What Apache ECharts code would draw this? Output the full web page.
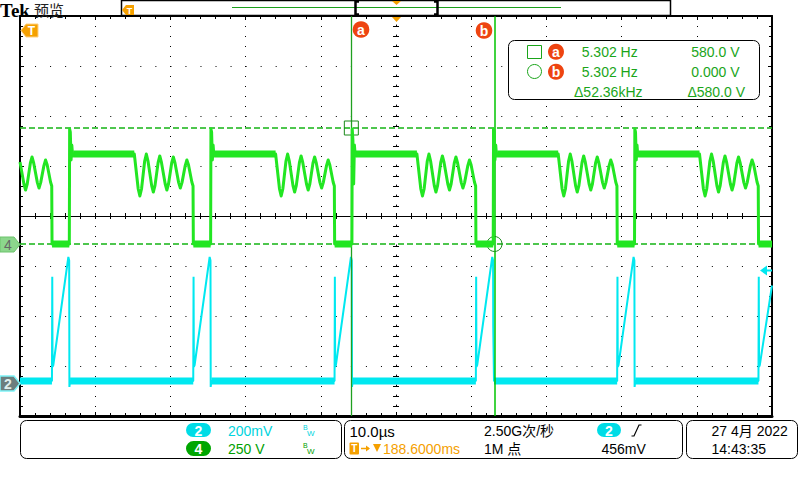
<!DOCTYPE html>
<html><head><meta charset="utf-8">
<script src="https://cdn.jsdelivr.net/npm/echarts@6/dist/echarts.min.js"></script>
<style>html,body{margin:0;padding:0;background:#fff;}#c{width:800px;height:480px;}</style>
</head><body><div id="c"></div>
<script>
// ---------------- data (time in µs, 10 µs/div; CH4 in V, CH2 in mV) ----------------
const timeRange = [-50, 50];
const divRange = [-4, 4];
const ch4VoltRange = [-860, 1140];   // 250 V/div
const ch2MilliVoltRange = [-132, 1468]; // 200 mV/div

// CH4 (green) trace points [t µs, V]
const ch4Wave = [
  [-50,410],[-49.48,300],[-49.26,270],[-49.04,300],[-48.62,405],[-48.40,435],[-48.18,405],[-47.69,307],[-47.47,280],[-47.25,307],[-46.82,392],[-46.60,420],[-46.38,395],[-45.94,310],[-45.78,290],[-45.74,0],
  [-43.44,0],[-43.40,575],[-43.31,560],[-43.21,420],[-43.11,495],[-43.00,440],[-42.91,450],
  [-34.80,450],[-34.28,275],[-34.06,240],[-33.84,275],[-33.42,415],[-33.20,450],[-32.98,415],[-32.49,292],[-32.27,260],[-32.05,292],[-31.63,408],[-31.41,440],[-31.19,408],[-30.69,300],[-30.47,270],[-30.25,300],[-29.83,405],[-29.61,435],[-29.39,405],[-28.90,307],[-28.68,280],[-28.46,307],[-28.03,392],[-27.81,420],[-27.59,395],[-27.15,310],[-26.99,290],[-26.95,0],
  [-24.65,0],[-24.61,575],[-24.52,560],[-24.42,420],[-24.32,495],[-24.21,440],[-24.12,450],
  [-16.01,450],[-15.49,275],[-15.27,240],[-15.05,275],[-14.63,415],[-14.41,450],[-14.19,415],[-13.70,292],[-13.48,260],[-13.26,292],[-12.84,408],[-12.62,440],[-12.40,408],[-11.90,300],[-11.68,270],[-11.46,300],[-11.04,405],[-10.82,435],[-10.60,405],[-10.11,307],[-9.89,280],[-9.67,307],[-9.24,392],[-9.02,420],[-8.80,395],[-8.36,310],[-8.20,290],[-8.16,0],
  [-5.86,0],[-5.82,575],[-5.73,520],[-5.63,300],[-5.53,495],[-5.42,440],[-5.33,450],
  [2.78,450],[3.30,275],[3.52,240],[3.74,275],[4.16,415],[4.38,450],[4.60,415],[5.09,292],[5.31,260],[5.53,292],[5.95,408],[6.17,440],[6.39,408],[6.89,300],[7.11,270],[7.33,300],[7.75,405],[7.97,435],[8.19,405],[8.68,307],[8.90,280],[9.12,307],[9.55,392],[9.77,420],[9.99,395],[10.43,310],[10.59,290],[10.63,0],
  [12.93,0],[12.97,575],[13.06,560],[13.16,420],[13.26,495],[13.37,440],[13.46,450],
  [21.57,450],[22.09,275],[22.31,240],[22.53,275],[22.95,415],[23.17,450],[23.39,415],[23.88,292],[24.10,260],[24.32,292],[24.74,408],[24.96,440],[25.18,408],[25.68,300],[25.90,270],[26.12,300],[26.54,405],[26.76,435],[26.98,405],[27.47,307],[27.69,280],[27.91,307],[28.34,392],[28.56,420],[28.78,395],[29.22,310],[29.38,290],[29.42,0],
  [31.72,0],[31.76,575],[31.85,560],[31.95,420],[32.05,495],[32.16,440],[32.25,450],
  [40.36,450],[40.88,275],[41.10,240],[41.32,275],[41.74,415],[41.96,450],[42.18,415],[42.67,292],[42.89,260],[43.11,292],[43.53,408],[43.75,440],[43.97,408],[44.47,300],[44.69,270],[44.91,300],[45.33,405],[45.55,435],[45.77,405],[46.26,307],[46.48,280],[46.70,307],[47.13,392],[47.35,420],[47.57,395],[48.01,310],[48.17,290],[48.21,0],
  [50,0]
];
// CH4 noisy flat parts [t0, t1, V]
const ch4Flats = [
  [-45.74,-43.44,0],[-42.91,-34.80,450],[-26.95,-24.65,0],[-24.12,-16.01,450],[-8.16,-5.86,0],[-5.33,2.78,450],
  [10.63,12.93,0],[13.46,21.57,450],[29.42,31.72,0],[32.25,40.36,450],[48.21,50,0]
];
// CH2 (cyan) trace points [t µs, mV]
const ch2Wave = [
  [-50,8],[-45.75,8],[-45.71,425],[-45.67,65],[-45.57,72],[-43.57,504],[-43.46,490],[-43.43,-16],[-43.34,8],
  [-26.96,8],[-26.92,425],[-26.88,65],[-26.78,72],[-24.78,504],[-24.67,490],[-24.64,-16],[-24.55,8],
  [-8.17,8],[-8.13,425],[-8.09,65],[-7.99,72],[-5.99,504],[-5.88,490],[-5.85,-16],[-5.76,8],
  [10.62,8],[10.66,425],[10.70,65],[10.80,72],[12.80,504],[12.91,490],[12.93,225],[13.00,225],[13.03,8],
  [29.41,8],[29.45,425],[29.49,65],[29.59,72],[31.59,504],[31.70,490],[31.73,-16],[31.82,8],
  [48.20,8],[48.24,425],[48.28,65],[48.38,72],[50,390]
];
// CH2 noisy baseline parts [t0, t1, mV]
const ch2Flats = [
  [-50,-45.75,8],[-43.34,-26.96,8],[-24.55,-8.17,8],[-5.76,10.62,8],[13.03,29.41,8],[31.82,48.20,8]
];
// cursors
const cursorTimes = [-5.94, 13.10];   // µs
const cursorVolts = [580, 0];         // V
// readouts
const cursorRows = [
  ['5.302 Hz', '580.0 V'],
  ['5.302 Hz', '0.000 V'],
  ['\u039452.36kHz', '\u0394580.0 V']
];
const chanLabels = [['2', '200mV'], ['4', '250 V']];
const timeLabels = ['10.0\u00b5s', '188.6000ms', '2.50G\u6b21/\u79d2', '1M \u70b9', '456mV'];
const dateLabels = ['27 4\u6708 2022', '14:43:35'];

// ---------------- chart ----------------
const GREEN = '#22e622', CYAN = '#00e8f0', ORANGE = '#f5a000', RED = '#ee4411';
const TXTG = '#1aa51a', TXTC = '#00d4de';
function flats(list){ const o=[]; list.forEach(([a,b,v])=>{o.push([a,v],[b,v],[b,'-']);}); return o; }

const chart = echarts.init(document.getElementById('c'), null, {renderer:'svg', width:800, height:480});
const F = '"Liberation Sans", "Noto Sans CJK SC", sans-serif';
function txt(x,y,t,fill,size,align,weight,fam){
  return {type:'text', silent:true, z:120, style:{x:x,y:y,text:t,fill:fill,font:(weight||'normal')+' '+size+'px '+(fam||F),
    textAlign:align||'left', align:align||'left', textVerticalAlign:'middle', verticalAlign:'middle'}};
}
function poly(pts,fill,stroke,lw){ return {type:'polygon', silent:true, z:110, shape:{points:pts}, style:{fill:fill, stroke:stroke||null, lineWidth:lw||0}}; }
function pline(pts,stroke,lw){ return {type:'polyline', silent:true, z:110, shape:{points:pts}, style:{fill:null, stroke:stroke, lineWidth:lw}}; }
function rrect(x,y,w,h,r,fill,stroke,lw){ return {type:'rect', silent:true, z:105, shape:{x:x,y:y,width:w,height:h,r:r}, style:{fill:fill, stroke:stroke||null, lineWidth:lw||0}}; }
function circ(cx,cy,r,fill,stroke,lw){ return {type:'circle', silent:true, z:110, shape:{cx:cx,cy:cy,r:r}, style:{fill:fill, stroke:stroke||null, lineWidth:lw||0}}; }

const frameTick = {show:true, inside:true, length:4, lineStyle:{color:'#000', width:1}};
const minor = {show:true, splitNumber:5, length:3, lineStyle:{color:'#000', width:1}};

const graphics = [
  txt(0,10,'Tek','#000',19,'left','bold','"Liberation Serif", serif'),
  txt(34,9.5,'\u9884\u89c8','#222',15,'left','normal','"Noto Sans CJK SC"'),
  rrect(121.5,0.5,549,15,0,'#fff','#000',1.5),
  pline([[232,7.5],[561,7.5]],'#1a9f1a',1),
  pline([[359,1.5],[355.5,1.5],[355.5,14.5],[359,14.5]],'#000',2.5),
  pline([[434,1.5],[437.5,1.5],[437.5,14.5],[434,14.5]],'#000',2.5),
  poly([[392,1],[401,1],[396.5,5]],ORANGE),
  poly([[122,10],[126,5],[134,5],[134,15],[126,15]],ORANGE),
  txt(129.5,10.5,'T','#fff',9,'center','bold'),
  poly([[392,17],[401,17],[396.5,22]],ORANGE),
  poly([[21,30.5],[26,24],[38,24],[38,37],[26,37]],ORANGE,'#ffd080',1),
  txt(31.5,31,'T','#fff',12,'center','bold'),
  poly([[0,237],[14,237],[20,244.5],[14,252],[0,252]],'#8cd68c','#6cc46c',1),
  txt(8,245,'4','#666',14,'center'),
  poly([[0,376],[14,376],[20,383.5],[14,391],[0,391]],'#6c7e7e','#7ff4f8',1.5),
  txt(8,384,'2','#e0eeee',14,'center','bold'),
  poly([[760,270.5],[767,265.5],[767,275.5]],CYAN),
  pline([[766,270.5],[772,270.5]],CYAN,2),
  circ(361,29.5,8.3,RED), txt(361,29.5,'a','#fff',14,'center','bold'),
  circ(484,30.5,8.3,RED), txt(484,30.5,'b','#fff',14,'center','bold'),
  rrect(508.5,40.5,251,59,6,'#fff','#000',1),
  rrect(527.5,45.5,14,13,0,null,TXTG,1),
  circ(556,51.7,8,RED), txt(556,51.7,'a','#fff',14,'center','bold'),
  circ(534.5,71.5,7,null,TXTG,1),
  circ(556,71.7,8,RED), txt(556,71.7,'b','#fff',14,'center','bold'),
  txt(581.7,52,cursorRows[0][0],TXTG,14), txt(739.5,52,cursorRows[0][1],TXTG,14,'right'),
  txt(581.7,72,cursorRows[1][0],TXTG,14), txt(739.5,72,cursorRows[1][1],TXTG,14,'right'),
  txt(574,91.5,cursorRows[2][0],TXTG,14), txt(745,91.5,cursorRows[2][1],TXTG,14,'right'),
  // bottom boxes
  rrect(20.5,420.5,321,38,6,'#fff','#000',1),
  rrect(344.5,420.5,338,38,6,'#fff','#000',1),
  rrect(686.5,420.5,111,38,6,'#fff','#000',1),
  rrect(186,423,25,14,7,'#00dce6'), txt(198.5,430.5,chanLabels[0][0],'#fff',14,'center','bold'),
  txt(228,431,chanLabels[0][1],TXTC,14),
  txt(303,427.5,'B',TXTC,7), txt(307,433.5,'W',TXTC,8),
  rrect(186,441,25,15,7.5,'#00a600'), txt(198.5,448.5,chanLabels[1][0],'#fff',14,'center','bold'),
  txt(228,448.5,chanLabels[1][1],'#00a000',14),
  txt(303,445,'B','#00a000',7), txt(307,451,'W','#00a000',8),
  txt(349.5,431,timeLabels[0],'#000',15),
  rrect(349.5,442.5,9.5,12,1,ORANGE), txt(354.2,448.7,'T','#fff',10,'center','bold'),
  pline([[361,448.5],[369,448.5]],ORANGE,1.5), poly([[366,445.5],[370,448.5],[366,451.5]],ORANGE),
  poly([[373,444],[381,444],[377,452]],ORANGE),
  txt(383,448.5,timeLabels[1],ORANGE,14),
  txt(484,431,timeLabels[2],'#000',14),
  txt(484,448.5,timeLabels[3],'#000',14),
  rrect(597,423,24,14,7,'#00dce6'), txt(609,430.5,'2','#fff',14,'center','bold'),
  pline([[631.5,436],[634,436],[639,425],[641.5,425]],'#000',1.2),
  txt(601.5,448.5,timeLabels[4],'#000',14),
  txt(711.5,431,dateLabels[0],'#000',14),
  txt(711.5,448.5,dateLabels[1],'#000',14)
];

const option = {
  animation:false,
  backgroundColor:'#fff',
  textStyle:{fontFamily:F},
  grid:{left:20, top:16, width:752, height:400, containLabel:false, show:false},
  xAxis:[
    {type:'value', min:timeRange[0], max:timeRange[1], interval:10, position:'bottom',
     axisLine:{show:true, onZero:false, lineStyle:{color:'#000', width:3}}, axisTick:frameTick, minorTick:minor,
     axisLabel:{show:false}, splitLine:{show:true, lineStyle:{color:'#000', width:1, type:[1,9]}}},
    {type:'value', min:timeRange[0], max:timeRange[1], interval:10, position:'top',
     axisLine:{show:true, onZero:false, lineStyle:{color:'#000', width:2}}, axisTick:frameTick, minorTick:minor,
     axisLabel:{show:false}, splitLine:{show:false}},
    {type:'value', min:timeRange[0], max:timeRange[1], interval:10, position:'bottom',
     axisLine:{show:true, onZero:true, onZeroAxisIndex:0, lineStyle:{color:'#000', width:1}},
     axisTick:{show:true, inside:true, length:3, lineStyle:{color:'#000'}}, minorTick:minor,
     axisLabel:{show:false}, splitLine:{show:false}},
    {type:'value', min:timeRange[0], max:timeRange[1], interval:10, position:'bottom',
     axisLine:{show:false, onZero:true, onZeroAxisIndex:0},
     axisTick:{show:true, inside:false, length:3, lineStyle:{color:'#000'}}, minorTick:minor,
     axisLabel:{show:false}, splitLine:{show:false}}
  ],
  yAxis:[
    {type:'value', min:divRange[0], max:divRange[1], interval:1, position:'left',
     axisLine:{show:true, onZero:false, lineStyle:{color:'#000', width:2}}, axisTick:frameTick, minorTick:minor,
     axisLabel:{show:false}, splitLine:{show:true, lineStyle:{color:'#000', width:1, type:[1,14.04]}}},
    {type:'value', min:divRange[0], max:divRange[1], interval:1, position:'right',
     axisLine:{show:true, onZero:false, lineStyle:{color:'#000', width:2}}, axisTick:frameTick, minorTick:minor,
     axisLabel:{show:false}, splitLine:{show:false}},
    {type:'value', min:divRange[0], max:divRange[1], interval:1, position:'left',
     axisLine:{show:true, onZero:true, onZeroAxisIndex:0, lineStyle:{color:'#000', width:1, type:[1,9]}},
     axisTick:{show:true, inside:true, length:3, lineStyle:{color:'#000'}}, minorTick:minor,
     axisLabel:{show:false}, splitLine:{show:false}},
    {type:'value', min:divRange[0], max:divRange[1], interval:1, position:'left',
     axisLine:{show:false, onZero:true, onZeroAxisIndex:0},
     axisTick:{show:true, inside:false, length:3, lineStyle:{color:'#000'}}, minorTick:minor,
     axisLabel:{show:false}, splitLine:{show:false}},
    {type:'value', min:ch4VoltRange[0], max:ch4VoltRange[1], show:false},
    {type:'value', min:ch2MilliVoltRange[0], max:ch2MilliVoltRange[1], show:false}
  ],
  series:[
    {name:'cursorH', type:'line', xAxisIndex:0, yAxisIndex:4, data:[], z:2, silent:true,
     markLine:{symbol:'none', silent:true, animation:false, label:{show:false},
       lineStyle:{color:'#14b414', width:1.5, type:[6,3]},
       data:cursorVolts.map(v=>({yAxis:v}))}},
    {name:'CH2 band', type:'line', xAxisIndex:0, yAxisIndex:5, data:flats(ch2Flats), symbol:'none', z:3, silent:true,
     lineStyle:{color:CYAN, width:7, cap:'butt'}},
    {name:'CH2', type:'line', xAxisIndex:0, yAxisIndex:5, data:ch2Wave, symbol:'none', z:4, silent:true,
     lineStyle:{color:CYAN, width:2}},
    {name:'CH4 band', type:'line', xAxisIndex:0, yAxisIndex:4, data:flats(ch4Flats), symbol:'none', z:5, silent:true,
     lineStyle:{color:GREEN, width:7, cap:'butt'}},
    {name:'CH4', type:'line', xAxisIndex:0, yAxisIndex:4, data:ch4Wave, symbol:'none', z:6, silent:true,
     lineStyle:{color:GREEN, width:3, join:'round'}},
    {name:'cursorV', type:'line', xAxisIndex:0, yAxisIndex:4, data:[], z:10, silent:true,
     markLine:{symbol:'none', silent:true, animation:false, label:{show:false},
       data:[{xAxis:cursorTimes[0], lineStyle:{color:'#20a020', width:1.3, type:'solid'}},
             {xAxis:cursorTimes[1], lineStyle:{color:'#00c400', width:1.5, type:'solid'}}]},
     markPoint:{silent:true, animation:false, label:{show:false},
       itemStyle:{color:'rgba(0,0,0,0)', borderColor:'#1a8a1a', borderWidth:1},
       data:[{coord:[cursorTimes[0], cursorVolts[0]], symbol:'rect', symbolSize:14},
             {coord:[cursorTimes[1], cursorVolts[1]], symbol:'circle', symbolSize:15}]}}
  ],
  graphic:{elements:graphics}
};
chart.setOption(option);
</script>
</body></html>
